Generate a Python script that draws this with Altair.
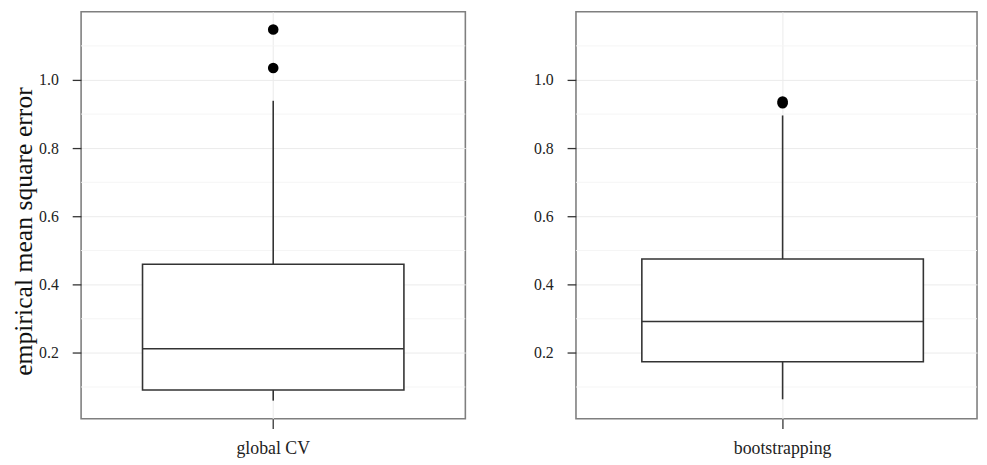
import altair as alt
import pandas as pd

categories = ["global CV", "bootstrapping"]
q1 = [0.091, 0.174]
median = [0.212, 0.292]
q3 = [0.460, 0.475]
whisker_low = [0.060, 0.064]
whisker_high = [0.939, 0.896]
outliers = {"global CV": [1.148, 1.035], "bootstrapping": [0.937, 0.932]}

y_ticks = [0.2, 0.4, 0.6, 0.8, 1.0]
y_minor = [0.1, 0.3, 0.5, 0.7, 0.9, 1.1]
y_domain = [0.007, 1.2]

FONT = "Liberation Serif"
DARK = "#333333"
LW = 1.6


def panel(i, width, pad_outer, align, title):
    cat = categories[i]
    box = pd.DataFrame({"cat": [cat], "q1": [q1[i]], "med": [median[i]], "q3": [q3[i]],
                        "lo": [whisker_low[i]], "hi": [whisker_high[i]]})
    out = pd.DataFrame({"cat": cat, "v": outliers[cat]})
    minor = pd.DataFrame({"m": y_minor})

    xenc = alt.X("cat:N",
                 scale=alt.Scale(paddingInner=0, paddingOuter=pad_outer, align=align),
                 axis=alt.Axis(title=None, labelAngle=0, bandPosition=0.5, grid=True,
                               gridColor="#ebebeb", domain=False, tickColor=DARK,
                               tickSize=10, tickWidth=1.3, labelFontSize=18, labelColor="#222",
                               labelPadding=11, labelFont=FONT))
    yscale = alt.Scale(domain=y_domain, nice=False, zero=False)
    axis_kw = dict(values=y_ticks, format=".1f", tickSize=9, tickColor=DARK, tickWidth=1.3,
                   labelFontSize=16, labelPadding=14, labelColor="#222",
                   labelFont=FONT, domain=False, gridColor="#ebebeb")
    if title:
        yaxis = alt.Axis(title=title, titleFontSize=26, titleFontWeight="normal",
                         titleFont=FONT, titleColor="#111", titlePadding=2,
                         titleY=222, **axis_kw)
    else:
        yaxis = alt.Axis(title=None, **axis_kw)

    base = alt.Chart(box)
    minor_layer = alt.Chart(minor).mark_rule(color="#f5f5f5", strokeWidth=1).encode(
        y=alt.Y("m:Q", scale=yscale, axis=yaxis))
    w1 = base.mark_rule(color=DARK, strokeWidth=LW).encode(
        x=xenc, y=alt.Y("lo:Q", scale=yscale), y2="q1:Q")
    w2 = base.mark_rule(color=DARK, strokeWidth=LW).encode(
        x=xenc, y=alt.Y("q3:Q", scale=yscale), y2="hi:Q")
    rect = base.mark_bar(fill="white", stroke=DARK, strokeWidth=LW).encode(
        x=xenc, y=alt.Y("q1:Q", scale=yscale), y2="q3:Q")
    med = base.mark_bar(fillOpacity=0, stroke=DARK, strokeWidth=LW).encode(
        x=xenc, y=alt.Y("med:Q", scale=yscale), y2="med:Q")
    pts = alt.Chart(out).mark_circle(size=115, color="black", opacity=1).encode(
        x=xenc, y=alt.Y("v:Q", scale=yscale))
    return alt.layer(minor_layer, w1, w2, rect, med, pts).properties(
        width=width, height=412,
        view=alt.ViewConfig(stroke="#7f7f7f", strokeWidth=1.6))


left = panel(0, 389, 0.235, 0.5, "empirical mean square error")
right = panel(1, 406, 0.2123, 0.551, None)

chart = alt.hconcat(left, right, spacing=66).properties(
    padding={"left": 2, "top": 0, "right": 0, "bottom": 0}
).configure_view(stroke="#7f7f7f", strokeWidth=1.6).configure(font=FONT)

chart.save("out.html", embed_options={"renderer": "svg", "actions": False})
